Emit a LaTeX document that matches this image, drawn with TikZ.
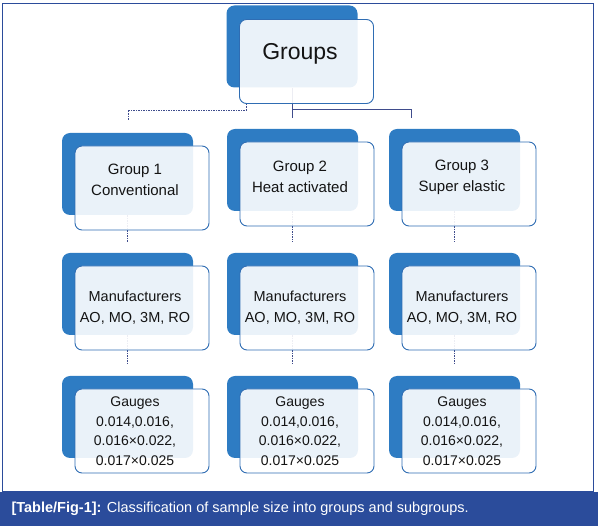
\documentclass[tikz,border=0pt]{standalone}
\usepackage{fontspec}
\setmainfont{Liberation Sans}
\usepackage{tikz}
\usetikzlibrary{calc, positioning, backgrounds}
\usepackage{xcolor}
\definecolor{boxblue}{HTML}{2E7CC3}
\definecolor{edgeblue}{HTML}{2F6DB3}
\definecolor{linkblue}{HTML}{3F4C8C}
\definecolor{capblue}{HTML}{2B4C9B}

\begin{document}
\begin{tikzpicture}[x=1pt, y=-1pt,
    backbox/.style={fill=boxblue, rounded corners=8pt, minimum width=131pt, minimum height=82pt, inner sep=0pt},
    frontbox/.style={draw=edgeblue, line width=0.9pt, fill=white, fill opacity=0.9, rounded corners=7pt, minimum width=134pt, minimum height=84pt, inner sep=0pt},
    boxtext/.style={align=center, text=black!92, inner sep=0pt},
    link/.style={draw=linkblue, line width=0.8pt},
    dotlink/.style={link, dash pattern=on 1.5pt off 1pt}]
    \useasboundingbox (0,0) rectangle (598,526);

    % Rahmen und Bildunterschrift
    \draw[capblue, line width=1pt] (2.5,4) rectangle (593.5,492);
    \fill[capblue] (0,492) rectangle (598,526);
    \node[anchor=west, text=white, font=\fontsize{14.5}{17}\selectfont] (cap) at (8,509)
        {\textbf{[Table/Fig-1]:} Classification of sample size into groups and subgroups.};

    % Groups
    \node[backbox] (gb) at (292,46.5) {};
    \node[frontbox] (gf) at ([shift={(14.5,15)}]gb) {};
    \node[boxtext, font=\fontsize{23}{27}\selectfont] (groups) at ([shift={(8,7)}]gb) {Groups};

    % Gruppen
    \node[backbox] (g1b) at (127.5,174) {};
    \node[frontbox] (g1f) at ([shift={(14.5,14)}]g1b) {};
    \node[boxtext, font=\fontsize{15}{21}\selectfont] (g1) at ([shift={(7.5,6)}]g1b) {Group 1\\Conventional};

    \node[backbox] (g2b) at (292.5,170) {};
    \node[frontbox] (g2f) at ([shift={(14.5,14)}]g2b) {};
    \node[boxtext, font=\fontsize{15}{21}\selectfont] (g2) at ([shift={(7.5,7)}]g2b) {Group 2\\Heat activated};

    \node[backbox] (g3b) at (454.5,170) {};
    \node[frontbox] (g3f) at ([shift={(14.5,14)}]g3b) {};
    \node[boxtext, font=\fontsize{15}{21}\selectfont] (g3) at ([shift={(7.5,7)}]g3b) {Group 3\\Super elastic};

    % Hersteller
    \node[backbox] (m1b) at (127.5,294) {};
    \node[frontbox] (m1f) at ([shift={(14.5,14)}]m1b) {};
    \node[boxtext, font=\fontsize{14.5}{21}\selectfont] (m1) at ([shift={(7.5,14)}]m1b) {Manufacturers\\AO, MO, 3M, RO};

    \node[backbox] (m2b) at (292.5,294) {};
    \node[frontbox] (m2f) at ([shift={(14.5,14)}]m2b) {};
    \node[boxtext, font=\fontsize{14.5}{21}\selectfont] (m2) at ([shift={(7.5,14)}]m2b) {Manufacturers\\AO, MO, 3M, RO};

    \node[backbox] (m3b) at (454.5,294) {};
    \node[frontbox] (m3f) at ([shift={(14.5,14)}]m3b) {};
    \node[boxtext, font=\fontsize{14.5}{21}\selectfont] (m3) at ([shift={(7.5,14)}]m3b) {Manufacturers\\AO, MO, 3M, RO};

    % Drahtstaerken
    \node[backbox] (d1b) at (127.5,417) {};
    \node[frontbox] (d1f) at ([shift={(14.5,14)}]d1b) {};
    \node[boxtext, font=\fontsize{14}{19.5}\selectfont] (d1) at ([shift={(7.5,14)}]d1b) {Gauges\\0.014,0.016,\\0.016×0.022,\\0.017×0.025};

    \node[backbox] (d2b) at (292.5,417) {};
    \node[frontbox] (d2f) at ([shift={(14.5,14)}]d2b) {};
    \node[boxtext, font=\fontsize{14}{19.5}\selectfont] (d2) at ([shift={(7.5,14)}]d2b) {Gauges\\0.014,0.016,\\0.016×0.022,\\0.017×0.025};

    \node[backbox] (d3b) at (454.5,417) {};
    \node[frontbox] (d3f) at ([shift={(14.5,14)}]d3b) {};
    \node[boxtext, font=\fontsize{14}{19.5}\selectfont] (d3) at ([shift={(7.5,14)}]d3b) {Gauges\\0.014,0.016,\\0.016×0.022,\\0.017×0.025};

    % Verbindungen
    \coordinate (hubL) at (128,120);
    \coordinate (hubM) at (292,118);
    \coordinate (hubR) at (411,118);
    \begin{pgfonlayer}{background}
        \draw[dotlink] (gf.south west) ++(7,0) |- ($(hubL)+(0,-10)$) -- (hubL);
        \draw[link] (gb) -- (hubM);
        \draw[link] (gb |- 0,109) -| (hubR);
        \draw[dotlink, shorten >=11pt] (g1b) -- (m1b);
        \draw[dotlink, shorten >=11pt] (g2b) -- (m2b);
        \draw[dotlink, shorten >=11pt] (g3b) -- (m3b);
        \draw[dotlink, shorten >=11pt] (m1b) -- (d1b);
        \draw[dotlink, shorten >=11pt] (m2b) -- (d2b);
        \draw[dotlink, shorten >=11pt] (m3b) -- (d3b);
    \end{pgfonlayer}
\end{tikzpicture}
\end{document}
